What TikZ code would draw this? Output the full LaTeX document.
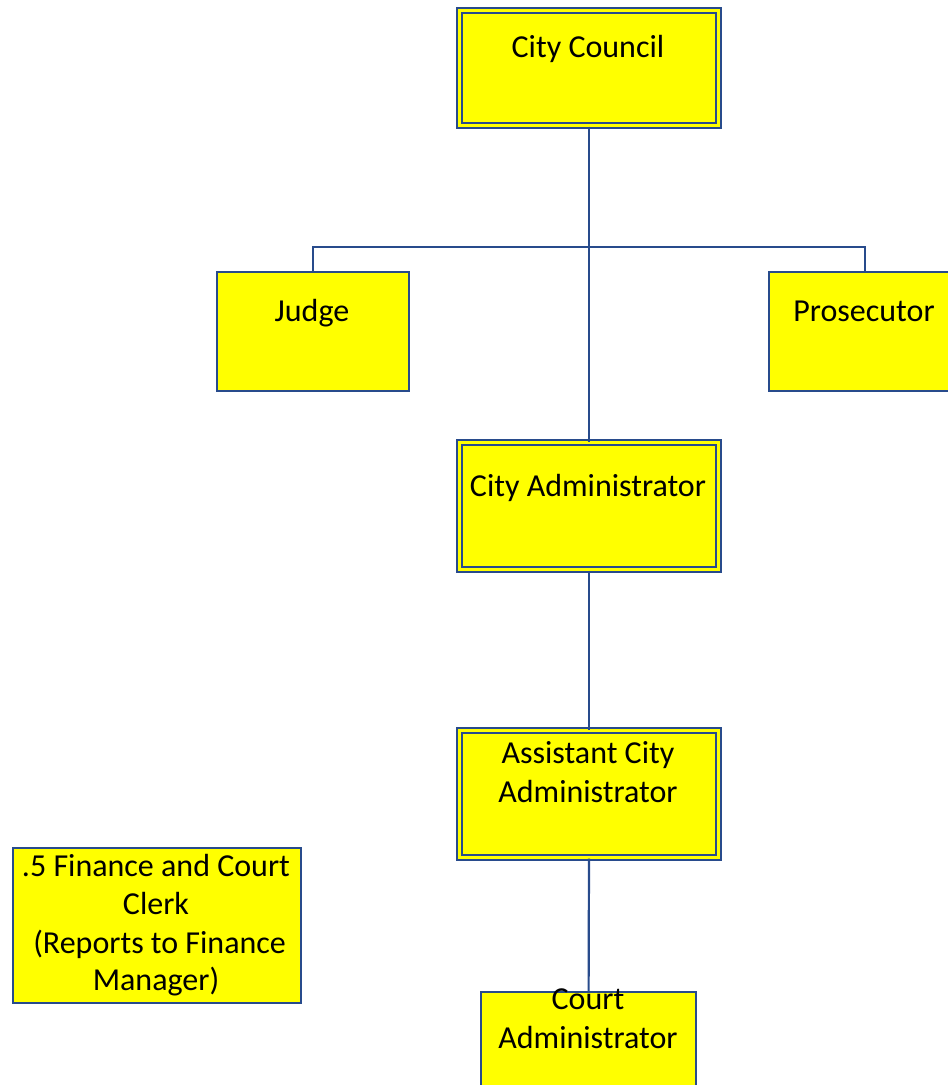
\documentclass[tikz,border=0pt]{standalone}
\usepackage{fontspec}
\setmainfont{Carlito}
\definecolor{lineblue}{RGB}{40,75,140}
\definecolor{boxyellow}{RGB}{255,255,0}
\begin{document}
\begin{tikzpicture}[x=1pt,y=-1pt,
  box/.style={draw=lineblue, line width=2.2pt, fill=boxyellow, inner sep=0pt, anchor=north west, minimum width=#1},
  dbox/.style={box=#1, double=boxyellow, double distance=2.6pt, line width=2pt},
  txt/.style={font=\fontsize{32}{38.5}\selectfont, align=center, inner sep=0pt, anchor=base},
  conn/.style={draw=lineblue, line width=2.2pt}]
\useasboundingbox (0,0) rectangle (948,1085);
\clip (0,0) rectangle (948,1085);
% boxes
\node[dbox=259, minimum height=115] (cc) at (458.5,9.5) {};
\node[box=192, minimum height=119] (judge) at (216,271) {};
\node[box=192, minimum height=119] (pros) at (768,271) {};
\node[dbox=259, minimum height=127] (ca) at (458.5,441.5) {};
\node[dbox=259, minimum height=127] (aca) at (458.5,729.5) {};
\node[box=288, minimum height=155] (fin) at (12,847) {};
\node[box=215, minimum height=120] (court) at (480,991) {};
% texts
\node[txt] (cct) at (588,57) {City Council};
\node[txt] (judget) at (312,321) {Judge};
\node[txt] (prost) at (864,321) {Prosecutor};
\node[txt] (cat) at (588,496) {City Administrator};
\node[txt] (acat1) at (588,763) {Assistant City};
\node[txt] (acat2) at (588,802) {Administrator};
\node[txt] (fint1) at (156,876) {.5 Finance and Court};
\node[txt] (fint2) at (156,914) {Clerk};
\node[txt] (fint3) at (156,953) {\ (Reports to Finance};
\node[txt] (fint4) at (156,990) {Manager)};
\node[txt] (courtt1) at (588,1009) {Court};
\node[txt] (courtt2) at (588,1048) {Administrator};
% connectors
\coordinate (bar) at (588,247);
\draw[conn] (cc.south) -- (ca.north);
\draw[conn] (judge.north) |- (bar) -| (pros.north);
\draw[conn] (ca.south) -- (aca.north);
\draw[conn] (aca.south) -- (court.north);
\end{tikzpicture}
\end{document}
